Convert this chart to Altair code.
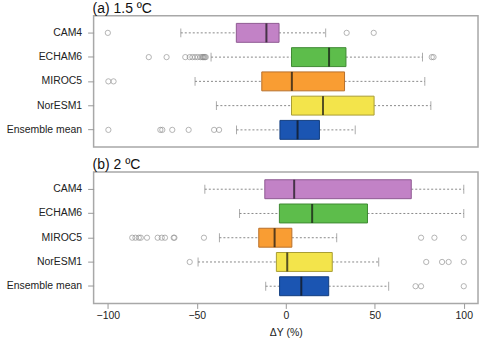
import altair as alt
import pandas as pd

models = ["CAM4", "ECHAM6", "MIROC5", "NorESM1", "Ensemble mean"]
colors = ["#c282c6", "#5dbd4b", "#f99d33", "#f3e44b", "#1b55b2"]
edge_colors = ["#8e5a92", "#3f8a33", "#b8702a", "#a89d33", "#123d80"]

# (a) 1.5 ºC box statistics, in model order
a_lo = [-59, -42, -51, -39, -27.7]
a_q1 = [-27.8, 3.2, -13.5, 3.2, -3.3]
a_med = [-10.9, 24.3, 3.4, 20.9, 6.6]
a_q3 = [-3.8, 33.8, 33.0, 49.6, 18.9]
a_hi = [22.4, 76.8, 78.1, 81.5, 39.0]
a_out = {
    "CAM4": [-100, 34.2, 49.4],
    "ECHAM6": [-77, -67, -56.5, -54, -52.5, -51, -49.5, -48, -47, -46.5, -46, -45.5, -45, 82, 83],
    "MIROC5": [-99.7, -96.8],
    "NorESM1": [],
    "Ensemble mean": [-99.7, -70.5, -69.4, -63.8, -54.6, -40.3, -37.5],
}

# (b) 2 ºC box statistics, in model order
b_lo = [-45.5, -26, -37.3, -49.3, -11.3]
b_q1 = [-11.8, -3.6, -15.2, -5.3, -3.5]
b_med = [4.7, 14.8, -6.3, 0.8, 8.7]
b_q3 = [70.5, 45.9, 3.4, 26.1, 24.1]
b_hi = [100, 100, 28.6, 52.2, 57.8]
b_out = {
    "CAM4": [],
    "ECHAM6": [],
    "MIROC5": [-86.3, -84.5, -82.6, -81.5, -78, -72, -69.7, -67.9, -63, -62.6, -46, 76, 83.5, 100],
    "NorESM1": [-54, 78.9, 87.8, 91.5, 100],
    "Ensemble mean": [72.9, 76, 100],
}

FONT = "Liberation Sans"
XDOM = [-108, 108]


def stats_frame(lo, q1, med, q3, hi):
    return pd.DataFrame({"model": models, "lo": lo, "q1": q1, "med": med,
                         "q3": q3, "hi": hi, "fill": colors, "edge": edge_colors})


def outlier_frame(out):
    rows = [{"model": m, "v": v} for m in models for v in out[m]]
    return pd.DataFrame(rows, columns=["model", "v"])


def panel(title, lo, q1, med, q3, hi, out, show_x):
    stats = stats_frame(lo, q1, med, q3, hi)
    outs = outlier_frame(out)

    if show_x:
        xaxis = alt.Axis(values=[-100, -50, 0, 50, 100], title="ΔY (%)", grid=False,
                         domain=False, tickColor="#999999", tickSize=5, labelFontSize=10.5,
                         labelFont=FONT, labelColor="#222222", titleFont=FONT,
                         titleFontSize=10.5, titleFontWeight="normal", titleColor="#222222",
                         labelPadding=2, titlePadding=7, labelFlush=False)
    else:
        xaxis = None
    x_scale = alt.Scale(domain=XDOM, nice=False, zero=False)
    y_enc = alt.Y("model:N", sort=models,
                  scale=alt.Scale(paddingInner=0.22, paddingOuter=0.32),
                  axis=alt.Axis(title=None, domain=False, grid=False, tickColor="#999999",
                                tickSize=6, labelFontSize=10.5, labelFont=FONT,
                                labelColor="#222222", labelPadding=6))

    base = alt.Chart(stats)
    whisk_lo = base.mark_rule(color="#888888", strokeDash=[2, 2], strokeWidth=1).encode(
        x=alt.X("lo:Q", scale=x_scale, axis=xaxis), x2="q1:Q", y=y_enc)
    whisk_hi = base.mark_rule(color="#888888", strokeDash=[2, 2], strokeWidth=1).encode(
        x=alt.X("q3:Q"), x2="hi:Q", y=alt.Y("model:N", sort=models))
    cap_lo = base.mark_tick(color="#888888", thickness=1, size=9, orient="vertical").encode(
        x="lo:Q", y=alt.Y("model:N", sort=models))
    cap_hi = base.mark_tick(color="#888888", thickness=1, size=9, orient="vertical").encode(
        x="hi:Q", y=alt.Y("model:N", sort=models))
    box = base.mark_bar(strokeWidth=1, size=19).encode(
        x="q1:Q", x2="q3:Q", y=alt.Y("model:N", sort=models),
        fill=alt.Fill("fill:N", scale=None), stroke=alt.Stroke("edge:N", scale=None))
    median = base.mark_tick(color="#111111", thickness=2, size=19, orient="vertical").encode(
        x="med:Q", y=alt.Y("model:N", sort=models))
    points = alt.Chart(outs).mark_point(shape="circle", filled=False, size=28,
                                        color="#8a8a8a", strokeWidth=0.9).encode(
        x="v:Q", y=alt.Y("model:N", sort=models))

    return alt.layer(whisk_lo, whisk_hi, cap_lo, cap_hi, box, median, points).properties(
        width=386, height=132,
        title=alt.TitleParams(title, anchor="start", frame="group", fontSize=14, font=FONT,
                              fontWeight="normal", color="#111111", offset=0, dx=-1))


top = panel("(a) 1.5 ºC", a_lo, a_q1, a_med, a_q3, a_hi, a_out, False)
bottom = panel("(b) 2 ºC", b_lo, b_q1, b_med, b_q3, b_hi, b_out, True)

chart = alt.vconcat(top, bottom, spacing=9).configure_view(
    stroke="#a8a8a8", strokeWidth=1.5
).properties(padding={"left": 5, "top": 0, "right": 2, "bottom": 2}, background="white")

chart.save("out.html", embed_options={"renderer": "svg", "actions": False})
